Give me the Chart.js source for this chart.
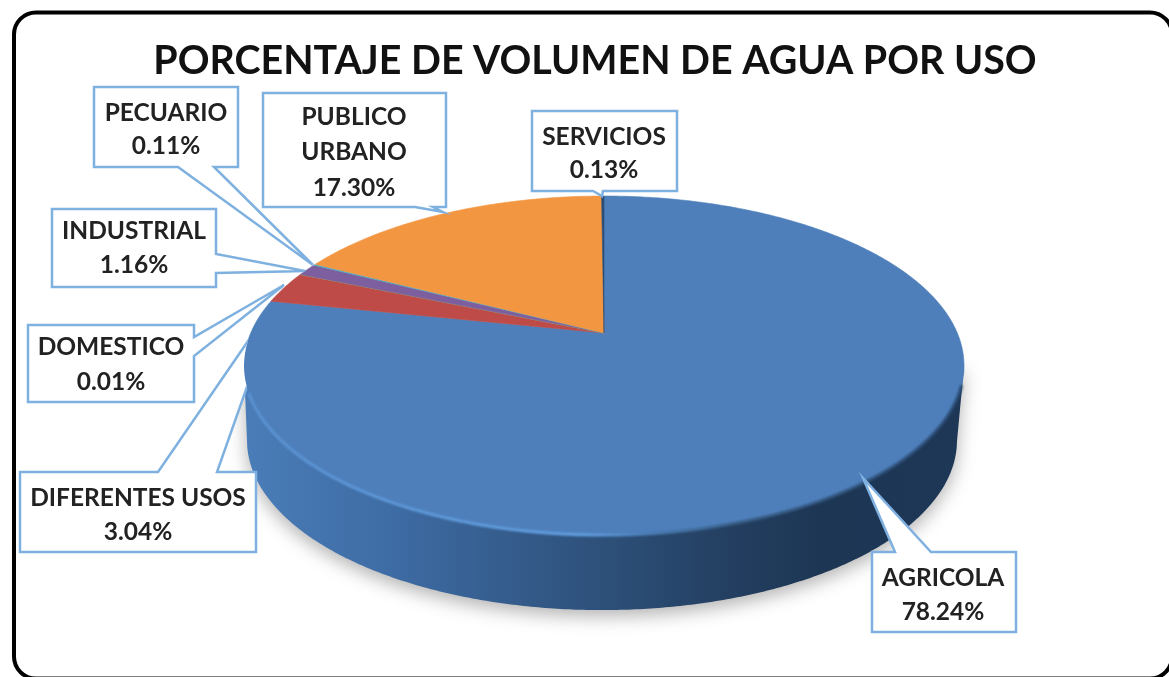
<!DOCTYPE html>
<html><head><meta charset="utf-8">
<style>html,body{margin:0;padding:0;background:#fff;overflow:hidden}#w{width:1169px;height:677px;position:relative}</style>
<script src="https://cdn.jsdelivr.net/npm/chart.js@4/dist/chart.umd.min.js"></script>
</head><body><div id="w"><canvas id="c"></canvas></div>
<script>
const titleText = 'PORCENTAJE DE VOLUMEN DE AGUA POR USO';
const categories = ['AGRICOLA','DIFERENTES USOS','DOMESTICO','INDUSTRIAL','PECUARIO','PUBLICO URBANO','SERVICIOS'];
const values = [78.24,3.04,0.01,1.16,0.11,17.30,0.13];
const sliceColors = ['#4E7FBB','#BE4B48','#9BBB59','#7D5FA0','#4BACC6','#F39642','#2C4D75'];
const labelLines = [['AGRICOLA'],['DIFERENTES USOS'],['DOMESTICO'],['INDUSTRIAL'],['PECUARIO'],['PUBLICO','URBANO'],['SERVICIOS']];

// layout of the tilted disc
const P = {cx:604, cy:333, A:163.3, B:353.3, k:0.192, depth:75, ecy:365.5};
const proj = a => { const u=Math.cos(a), v=Math.sin(a), d=1-P.k*v; return [P.cx+P.B*u/d, P.cy+P.A*v/d]; };

// callout layout: outline polygon + text centre + line positions
const callouts = [
 {poly:[[872,552],[895,552],[863,478],[931,552],[1016,552],[1016,632],[872,632]], x:943, y:[578,612]},
 {poly:[[20,472],[158,472],[279,296],[217,472],[256,472],[256,552],[20,552]], x:138, y:[498,532], behind:true},
 {poly:[[28,325],[194,325],[194,337],[284,285],[194,356],[194,402],[28,402]], x:111, y:[347,382], behind:true},
 {poly:[[52,209],[216,209],[216,254],[305,271],[216,273],[216,287],[52,287]], x:134, y:[231,265], behind:true},
 {poly:[[94,87],[238,87],[238,167],[214,167],[313,265],[178,167],[94,167]], x:166, y:[113,146], behind:true},
 {poly:[[263,93],[446,93],[446,207],[433,207],[443,212],[415,207],[263,207]], x:354, y:[117,152,188]},
 {poly:[[532,111],[677,111],[677,191],[603,191],[602,196],[593,191],[532,191]], x:604, y:[137,170]}
];

const disc3d = {
 id:'disc3d',
 beforeDraw(chart){
  const c=chart.ctx; c.save();
  c.fillStyle='#fff'; c.fillRect(0,0,1169,677);
  c.strokeStyle='#000'; c.lineWidth=4;
  c.beginPath(); c.roundRect(14,12.5,1158,666,22); c.stroke();
  c.restore();
 },
 beforeDatasetDraw(chart,args){
  const c=chart.ctx, arcs=chart.getDatasetMeta(args.index).data;
  // lower half of the rim, left to right
  const lower=[]; for(let i=0;i<=720;i++){const p=proj(i*Math.PI/360); if(p[1]>=P.ecy) lower.push(p);}
  lower.sort((a,b)=>a[0]-b[0]);
  // side wall
  c.save();
  c.shadowColor='rgba(0,0,0,.30)'; c.shadowBlur=18; c.shadowOffsetY=6;
  const g=c.createLinearGradient(245,0,964,0);
  g.addColorStop(0,'#4A7DB8'); g.addColorStop(.22,'#3D6AA2'); g.addColorStop(.5,'#2D5079');
  g.addColorStop(.68,'#233E60'); g.addColorStop(.8,'#1D3654'); g.addColorStop(1,'#1E3757');
  c.fillStyle=g;
  c.beginPath();
  c.moveTo(lower[0][0],lower[0][1]);
  lower.forEach(p=>c.lineTo(602+(p[0]-P.cx)*0.986,p[1]+P.depth));
  const last=lower[lower.length-1];
  c.lineTo(last[0],last[1]); c.closePath(); c.fill();
  c.restore();
  // slices: angles come from the library's arc elements
  arcs.forEach(arc=>{
   const {startAngle:s,endAngle:e}=arc.getProps(['startAngle','endAngle'],true);
   c.beginPath(); c.moveTo(P.cx,P.cy);
   const n=Math.max(2,Math.ceil((e-s)/0.01));
   for(let i=0;i<=n;i++){const p=proj(s+(e-s)*i/n); c.lineTo(p[0],p[1]);}
   c.closePath();
   c.fillStyle=arc.options.backgroundColor; c.fill();
   c.lineWidth=.6; c.strokeStyle=arc.options.backgroundColor; c.stroke();
  });
  // bevel along the front of the face
  c.save();
  const r=c.createLinearGradient(245,0,964,0);
  r.addColorStop(0,'#5A92D2'); r.addColorStop(.47,'#639FE0'); r.addColorStop(.56,'#4A7CB4');
  r.addColorStop(.68,'#35597F'); r.addColorStop(1,'#2A4A72');
  c.strokeStyle=r; c.lineWidth=3; c.filter='blur(1.2px)';
  const rim=lower.filter(p=>p[1]>=(p[0]<P.cx?392:385));
  c.beginPath(); rim.forEach((p,i)=>i?c.lineTo(p[0],p[1]):c.moveTo(p[0],p[1])); c.stroke();
  c.restore();
  return false;
 },
 afterDatasetsDraw(chart){
  const c=chart.ctx;
  c.save();
  c.font='bold 24.5px Lato'; c.textAlign='center'; c.textBaseline='middle';
  callouts.forEach((b,i)=>{
   c.save();
   if(b.behind){ // keep the pointer outside the disc's face
    c.beginPath(); c.rect(0,0,1169,677);
    for(let d=0;d<=360;d++){const p=proj(d*Math.PI/180); d?c.lineTo(p[0],p[1]):c.moveTo(p[0],p[1]);}
    c.closePath(); c.clip('evenodd');
   }
   c.beginPath(); b.poly.forEach((p,j)=>j?c.lineTo(p[0],p[1]):c.moveTo(p[0],p[1])); c.closePath();
   c.fillStyle='#fff'; c.fill(); c.strokeStyle='#7FB1E0'; c.lineWidth=2.5; c.lineJoin='miter'; c.stroke();
   c.restore();
   const lines=[...labelLines[i], values[i].toFixed(2)+'%'];
   c.fillStyle='#222';
   lines.forEach((t,j)=>c.fillText(t,b.x,b.y[j]));
  });
  c.restore();
 }
};

new Chart(document.getElementById('c'),{
 type:'pie',
 data:{labels:categories,datasets:[{data:values,backgroundColor:sliceColors,borderWidth:0}]},
 options:{
  responsive:true,maintainAspectRatio:false,animation:false,
  layout:{padding:{left:21}},
  plugins:{legend:{display:false},tooltip:{enabled:false},
   title:{display:true,text:titleText,color:'#111',font:{family:'Lato',size:39.4,weight:'bold'},padding:{top:38,bottom:10}}}
 },
 plugins:[disc3d]
});
</script></body></html>
